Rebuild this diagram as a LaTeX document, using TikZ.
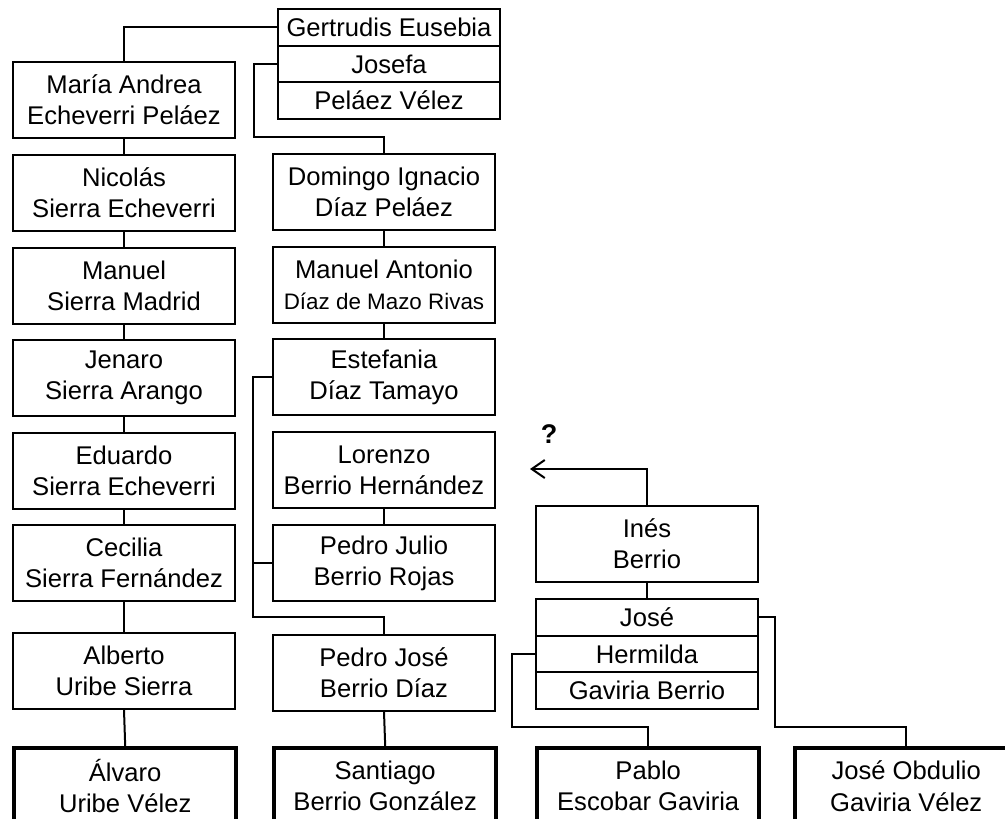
\documentclass[tikz,border=0pt]{standalone}
\usepackage{fontspec}
\setmainfont{Liberation Sans}
\usetikzlibrary{arrows.meta}

\begin{document}
\begin{tikzpicture}[x=0.5pt,y=-0.5pt,line width=1pt,
    person/.style={draw,line width=1pt,anchor=north west,align=center,
      minimum width=111pt,minimum height=38pt,inner sep=0pt,
      font=\fontsize{12.8}{15.6}\selectfont},
    heir/.style={person,line width=2.2pt},
    row/.style={person,minimum height=18.3pt}]
  \useasboundingbox (0,0) rectangle (1005,818);
  \clip (0,0) rectangle (1005,818);

  % top couple box
  \node[row] (gertrudis) at (277,8) {Gertrudis Eusebia};
  \node[row] (josefa) at (277,44.6) {Josefa};
  \node[row] (pelaez) at (277,81.2) {Peláez Vélez};

  % left branch
  \node[person] (maria) at (12,61) {María Andrea\\Echeverri Peláez};
  \node[person] (nicolas) at (12,154) {Nicolás\\Sierra Echeverri};
  \node[person] (manuel) at (12,247) {Manuel\\Sierra Madrid};
  \node[person] (jenaro) at (12,339) {Jenaro\\Sierra Arango};
  \node[person] (eduardo) at (12,432) {Eduardo\\Sierra Echeverri};
  \node[person] (cecilia) at (12,524) {Cecilia\\Sierra Fernández};
  \node[person] (alberto) at (12,632) {Alberto\\Uribe Sierra};
  \node[heir] (alvaro) at (12,746) {Álvaro\\Uribe Vélez};

  % middle branch
  \node[person] (domingo) at (272,153) {Domingo Ignacio\\Díaz Peláez};
  \node[person] (manuelantonio) at (272,246)
    {Manuel Antonio\\{\fontsize{11.2}{13}\selectfont Díaz de Mazo Rivas}};
  \node[person] (estefania) at (272,338) {Estefania\\Díaz Tamayo};
  \node[person] (lorenzo) at (272,431) {Lorenzo\\Berrio Hernández};
  \node[person] (pedrojulio) at (272,524) {Pedro Julio\\Berrio Rojas};
  \node[person] (pedrojose) at (272,634) {Pedro José\\Berrio Díaz};
  \node[heir] (santiago) at (272,746) {Santiago\\Berrio González};

  % right branch
  \node[person] (ines) at (535,505) {Inés\\Berrio};
  \node[row] (jose) at (535,598) {José};
  \node[row] (hermilda) at (535,634.6) {Hermilda};
  \node[row] (gaviria) at (535,671.2) {Gaviria Berrio};
  \node[heir] (pablo) at (535,746) {Pablo\\Escobar Gaviria};
  \node[heir] (obdulio) at (793,746) {José Obdulio\\Gaviria Vélez};

  % connectors
  \draw (gertrudis.west) -| (maria.north);
  \coordinate (josefaturn) at (254,137);
  \draw (josefa.west) -| (josefaturn) -| (domingo.north);

  \foreach \a/\b in {maria/nicolas,nicolas/manuel,manuel/jenaro,jenaro/eduardo,
      eduardo/cecilia,cecilia/alberto,alberto/alvaro,
      domingo/manuelantonio,manuelantonio/estefania,lorenzo/pedrojulio,
      pedrojose/santiago,ines/jose}
    \draw (\a.south) -- (\b.north);

  \coordinate (estefaniaturn) at (253,617);
  \draw (estefania.west) -| (estefaniaturn) -| (pedrojose.north);
  \draw (pedrojulio.west) -- (pedrojulio.west -| estefaniaturn);

  \coordinate (unknown) at (530,469);
  \draw[-{Straight Barb[length=6.5pt,width=9pt]}] (ines.north) |- (unknown);
  \node[font=\bfseries\fontsize{13.5}{15}\selectfont] (question) at (549,434) {?};

  \coordinate (hermildaturn) at (512,727);
  \draw (hermilda.west) -| (hermildaturn) -| (pablo.north);
  \coordinate (joseturn) at (775,727);
  \draw (jose.east) -| (joseturn) -| (obdulio.north);
\end{tikzpicture}
\end{document}
